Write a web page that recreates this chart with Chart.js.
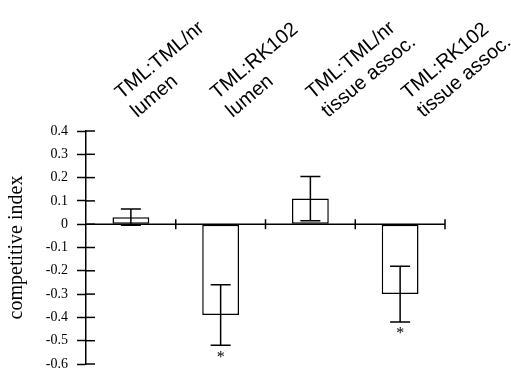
<!DOCTYPE html>
<html>
<head>
<meta charset="utf-8">
<script src="https://cdn.jsdelivr.net/npm/chart.js@4"></script>
<style>
  body { margin: 0; background: #fff; }
  #wrap { width: 511px; height: 368px; }
</style>
</head>
<body>
<div id="wrap"><canvas id="myChart"></canvas></div>
<script>
// groups on the x axis (two lines each)
const groups = [
    ['TML:TML/nr', 'lumen'],
    ['TML:RK102', 'lumen'],
    ['TML:TML/nr', 'tissue assoc.'],
    ['TML:RK102', 'tissue assoc.']
];
// competitive index and its error
const index = [0.03, -0.39, 0.11, -0.30];
const errors = [0.035, 0.13, 0.095, 0.12];
const marks = ['', '*', '', '*'];
const yMin = -0.6;
const yMax = 0.4;
const yStep = 0.1;

const ctx = document.getElementById('myChart');

// error bars, zero axis with group separators, inner half of y ticks, asterisks
const extras = {
    id: 'extras',
    afterDatasetsDraw(chart) {
        const c = chart.ctx;
        const x = chart.scales.x;
        const y = chart.scales.y;
        const area = chart.chartArea;
        c.save();
        c.strokeStyle = '#000';
        c.lineWidth = 1.5;

        // zero line
        const y0 = y.getPixelForValue(0);
        c.beginPath();
        c.moveTo(area.left, y0);
        c.lineTo(area.right, y0);
        c.stroke();
        // separators between groups
        for (let i = 0; i < groups.length; i++) {
            const px = x.getPixelForValue(i + 0.5);
            c.beginPath();
            c.moveTo(px, y0 - 5);
            c.lineTo(px, y0 + 5);
            c.stroke();
        }
        // inner side of y ticks
        y.ticks.forEach((t, i) => {
            const py = y.getPixelForTick(i);
            c.beginPath();
            c.moveTo(area.left, py);
            c.lineTo(area.left + 9, py);
            c.stroke();
        });

        const meta = chart.getDatasetMeta(0);
        meta.data.forEach((bar, i) => {
            const hi = y.getPixelForValue(index[i] + errors[i]);
            const lo = y.getPixelForValue(index[i] - errors[i]);
            c.beginPath();
            c.moveTo(bar.x, hi);
            c.lineTo(bar.x, lo);
            c.moveTo(bar.x - 10, hi);
            c.lineTo(bar.x + 10, hi);
            c.moveTo(bar.x - 10, lo);
            c.lineTo(bar.x + 10, lo);
            c.stroke();
            if (marks[i]) {
                c.fillStyle = '#000';
                c.font = '16px "Liberation Serif"';
                c.textAlign = 'center';
                c.textBaseline = 'top';
                c.fillText(marks[i], bar.x, lo + 4);
            }
        });
        c.restore();
    }
};

new Chart(ctx, {
    type: 'bar',
    data: {
        labels: groups,
        datasets: [{
            data: index,
            backgroundColor: '#fff',
            borderColor: '#000',
            borderWidth: 1.5,
            borderSkipped: false,
            barPercentage: 0.41,
            categoryPercentage: 1
        }]
    },
    options: {
        responsive: true,
        maintainAspectRatio: false,
        animation: false,
        layout: { padding: { left: 0, right: 66, top: 0, bottom: 4 } },
        plugins: {
            legend: { display: false },
            tooltip: { enabled: false }
        },
        scales: {
            x: {
                display: false
            },
            // the group names sit a little wider apart than the bars
            names: {
                type: 'linear',
                position: 'top',
                bounds: 'data',
                offset: false,
                min: -0.66,
                max: 3.1,
                grid: { display: false, drawTicks: false },
                border: { display: false },
                ticks: {
                    autoSkip: false,
                    minRotation: 40,
                    maxRotation: 40,
                    padding: 8,
                    color: '#000',
                    font: { family: 'Liberation Sans', size: 20 },
                    callback: v => groups[v] || ''
                },
                afterBuildTicks(scale) {
                    scale.ticks = groups.map((g, i) => ({ value: i }));
                },
                afterFit(scale) {
                    scale.height = 131;
                    scale.paddingLeft = 0;
                    scale.paddingRight = 0;
                }
            },
            y: {
                min: yMin,
                max: yMax,
                ticks: {
                    stepSize: yStep,
                    padding: 9,
                    color: '#000',
                    font: { family: 'Liberation Serif', size: 14 },
                    callback: v => Math.abs(v) < 1e-9 ? '0' : v.toFixed(1)
                },
                grid: {
                    drawOnChartArea: false,
                    tickLength: 9,
                    tickColor: '#000',
                    tickWidth: 1.5
                },
                border: { color: '#000', width: 1.5 },
                title: {
                    display: true,
                    text: 'competitive index',
                    color: '#000',
                    font: { family: 'Liberation Serif', size: 20 },
                    padding: { top: 5, bottom: 0 }
                },
                afterFit(scale) {
                    scale.width = 86;
                    scale.paddingTop = 0;
                    scale.paddingBottom = 0;
                }
            }
        }
    },
    plugins: [extras]
});
</script>
</body>
</html>
